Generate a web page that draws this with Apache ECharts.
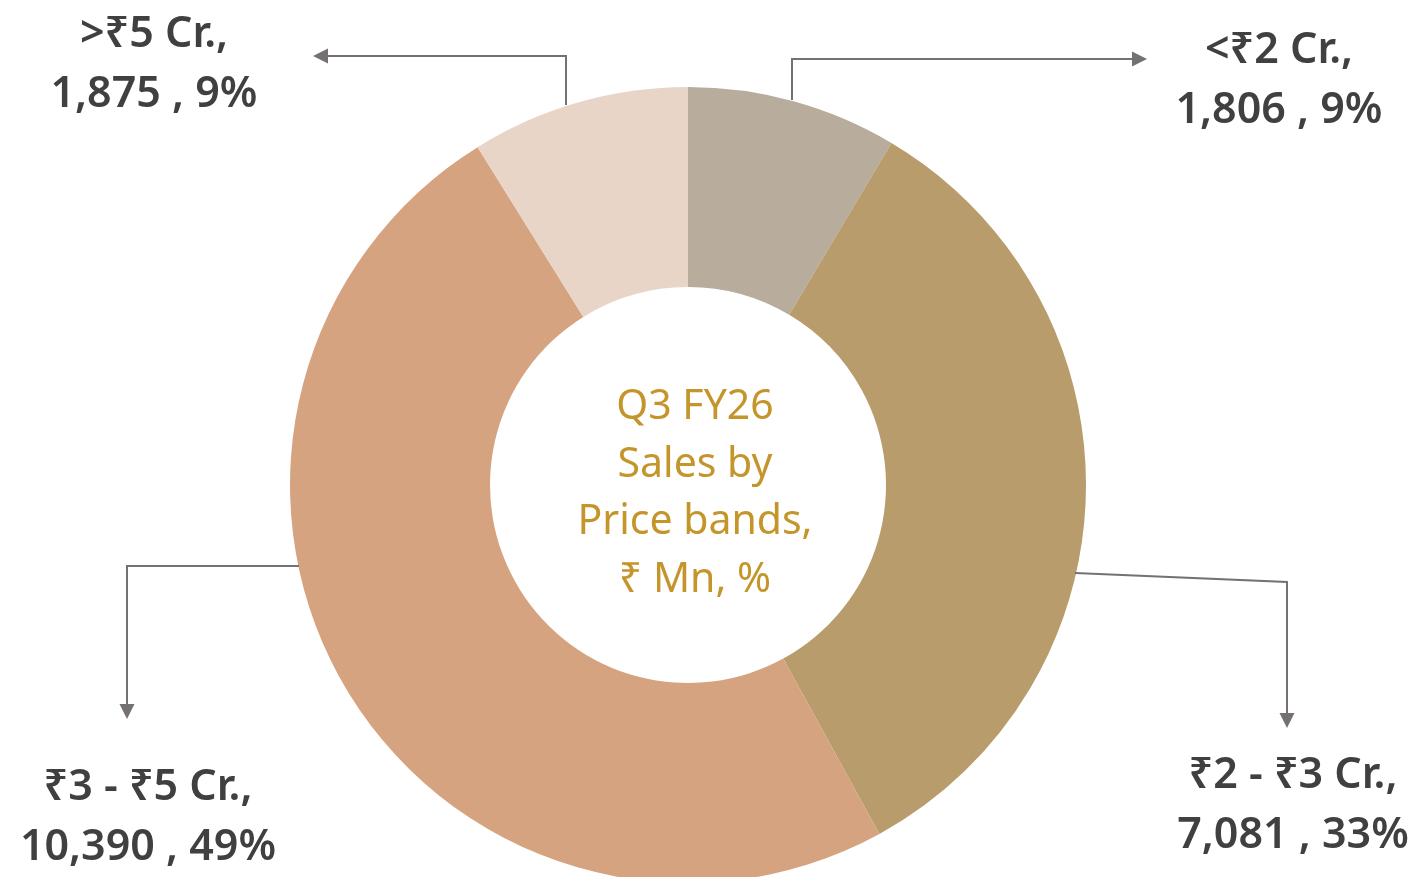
<!DOCTYPE html>
<html>
<head>
<meta charset="utf-8">
<title>Q3 FY26 Sales by Price bands</title>
<script src="https://cdn.jsdelivr.net/npm/echarts@6/dist/echarts.min.js"></script>
<style>
  html, body { margin: 0; padding: 0; background: #fff; }
  #chart { width: 1416px; height: 877px; }
</style>
</head>
<body>
<div id="chart"></div>
<script>
// data
const bands = ['<₹2 Cr.', '₹2 - ₹3 Cr.', '₹3 - ₹5 Cr.', '>₹5 Cr.'];
const sales = [1806, 7081, 10390, 1875];
const colors = ['#b8ac9d', '#b99c6b', '#d5a380', '#e8d5c8'];
const centerText = 'Q3 FY26\nSales by\nPrice bands,\n₹ Mn, %';

// where each label block sits (centre of text)
const labelPos = [[1279, 81], [1293, 806], [148, 818], [154, 65]];
// leader lines (elbow), arrow at the last point
const leaders = [
  [[792, 100], [792, 59], [1147, 59]],
  [[1075, 573], [1287, 582], [1287, 728]],
  [[299, 566], [127, 566], [127, 719]],
  [[566, 105], [566, 56], [313, 56]]
];

const lineColor = '#767171';

function arrowHead(pts) {
  const a = pts[pts.length - 2], b = pts[pts.length - 1];
  const dx = b[0] - a[0], dy = b[1] - a[1];
  const len = Math.sqrt(dx * dx + dy * dy);
  const ux = dx / len, uy = dy / len;
  const L = 15, W = 7.5;
  const bx = b[0] - ux * L, by = b[1] - uy * L;
  return {
    type: 'polygon',
    shape: { points: [b, [bx - uy * W, by + ux * W], [bx + uy * W, by - ux * W]] },
    style: { fill: lineColor },
    z: 10
  };
}

const graphics = [];
leaders.forEach(function (pts) {
  const a = pts[pts.length - 2], b = pts[pts.length - 1];
  const dx = b[0] - a[0], dy = b[1] - a[1];
  const len = Math.sqrt(dx * dx + dy * dy);
  // stop the line where the arrow head starts
  const linePts = pts.slice(0, -1).concat([[b[0] - dx / len * 12, b[1] - dy / len * 12]]);
  graphics.push({
    type: 'polyline',
    shape: { points: linePts },
    style: { stroke: lineColor, lineWidth: 2, fill: null },
    z: 10
  });
  graphics.push(arrowHead(pts));
});
graphics.push({
  type: 'text',
  x: 695,
  y: 494,
  style: {
    text: centerText,
    fill: '#c4952b',
    font: '41px "Noto Sans"',
    lineHeight: 57.5,
    align: 'center',
    verticalAlign: 'middle'
  },
  z: 10
});

const myChart = echarts.init(document.getElementById('chart'));
const option = {
  backgroundColor: '#ffffff',
  animation: false,
  graphic: graphics,
  series: [
    {
      type: 'pie',
      center: [688, 485],
      radius: [198, 398],
      startAngle: 90,
      clockwise: true,
      avoidLabelOverlap: false,
      silent: true,
      data: bands.map(function (b, i) {
        return { name: b, value: sales[i], itemStyle: { color: colors[i] } };
      }),
      label: {
        show: true,
        position: 'outside',
        formatter: function (p) {
          return p.name + ',\n' + p.value.toLocaleString('en-US') + ' , ' + Math.round(p.percent) + '%';
        },
        color: '#404040',
        fontFamily: 'Noto Sans',
        fontWeight: 600,
        fontSize: 43,
        lineHeight: 60,
        align: 'center'
      },
      labelLine: { show: false },
      labelLayout: function (params) {
        const p = labelPos[params.dataIndex];
        return { x: p[0], y: p[1], align: 'center', verticalAlign: 'middle' };
      }
    }
  ]
};
myChart.setOption(option);
window.addEventListener('resize', function () {
  myChart.resize();
});
</script>
</body>
</html>
